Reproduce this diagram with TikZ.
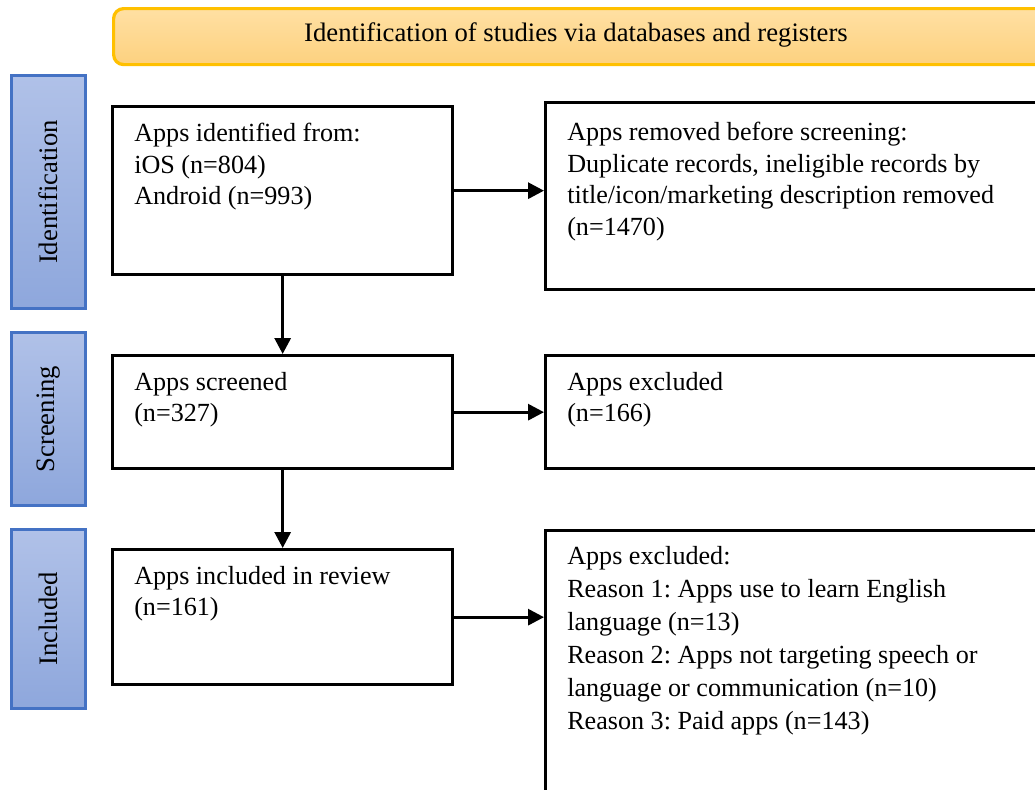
\documentclass[tikz,border=0pt]{standalone}
\usepackage{fontspec}
\setmainfont{Liberation Serif}
\usetikzlibrary{arrows.meta,calc}
\definecolor{hdrT}{HTML}{FFE0A3}
\definecolor{hdrB}{HTML}{FDD17F}
\definecolor{hdrline}{HTML}{FFC000}
\definecolor{sideT}{HTML}{B0C1E8}
\definecolor{sideB}{HTML}{8EA7DC}
\definecolor{sideline}{HTML}{4472C4}
\frenchspacing
\begin{document}
\begin{tikzpicture}[x=0.75pt,y=-0.75pt,
 box/.style={draw=black, line width=2.5pt, anchor=north west, inner sep=0, fill=white},
 boxtext/.style={anchor=north west, inner sep=0, align=left, font=\fontsize{19.6}{23.6}\selectfont},
 side/.style={draw=sideline, line width=2.4pt, top color=sideT, bottom color=sideB, inner sep=0, anchor=north west, minimum width=55.5pt},
 sidetext/.style={rotate=90, inner sep=0, font=\fontsize{20}{22}\selectfont},
 arr/.style={line width=2.3pt, -{Triangle[length=12pt,width=12pt]}}
]
\clip (0,0) rectangle (1035,789);
\fill[white] (0,0) rectangle (1035,789);
% header
\node[anchor=north west, draw=hdrline, line width=2.4pt, top color=hdrT, bottom color=hdrB,
  rounded corners=7.5pt, minimum width=711pt, minimum height=42pt, inner sep=0] (hdr) at (112,7) {};
\node[inner sep=0, font=\fontsize{20}{22}\selectfont] (hdrtext) at (576,35) {Identification of studies via databases and registers};
% side labels
\node[side, minimum height=174.75pt] (s1) at (10,74) {};
\node[sidetext] (s1t) at (s1.center) {Identification};
\node[side, minimum height=129.75pt] (s2) at (10,331) {};
\node[sidetext] (s2t) at (s2.center) {Screening};
\node[side, minimum height=134.25pt] (s3) at (10,528) {};
\node[sidetext] (s3t) at (s3.center) {Included};
% boxes
\node[box, minimum width=255pt, minimum height=126pt] (b1) at (111,105) {};
\node[box, minimum width=255pt, minimum height=84.75pt] (b2) at (111,354) {};
\node[box, minimum width=255pt, minimum height=101.25pt] (b3) at (111,548) {};
\node[box, minimum width=379.5pt, minimum height=140.25pt] (r1) at (544,101) {};
\node[box, minimum width=379.5pt, minimum height=84.75pt] (r2) at (544,354) {};
\node[box, minimum width=379.5pt, minimum height=203.25pt] (r3) at (544,529) {};
% texts
\node[boxtext] (t1) at ($(b1.north west)+(23,18)$) {Apps identified from:\\iOS (n=804)\\Android (n=993)};
\node[boxtext] (t2) at ($(b2.north west)+(23,18)$) {Apps screened\\(n=327)};
\node[boxtext] (t3) at ($(b3.north west)+(23,18)$) {Apps included in review\\(n=161)};
\node[boxtext] (u1) at ($(r1.north west)+(23,21)$) {Apps removed before screening:\\Duplicate records, ineligible records by\\title/icon/marketing description removed\\(n=1470)};
\node[boxtext] (u2) at ($(r2.north west)+(23,18)$) {Apps excluded\\(n=166)};
\node[boxtext, font=\fontsize{19.6}{24.8}\selectfont] (u3) at ($(r3.north west)+(23,17)$) {Apps excluded:\\Reason 1: Apps use to learn English\\language (n=13)\\Reason 2: Apps not targeting speech or\\language or communication (n=10)\\Reason 3: Paid apps (n=143)};
% arrows
\draw[arr] (b1.east) -- (b1.east -| r1.west);
\draw[arr] (b2.east) -- (b2.east -| r2.west);
\draw[arr] (b3.east) -- (b3.east -| r3.west);
\draw[arr] (b1.south) -- (b2.north);
\draw[arr] (b2.south) -- (b3.north);
\end{tikzpicture}
\end{document}
